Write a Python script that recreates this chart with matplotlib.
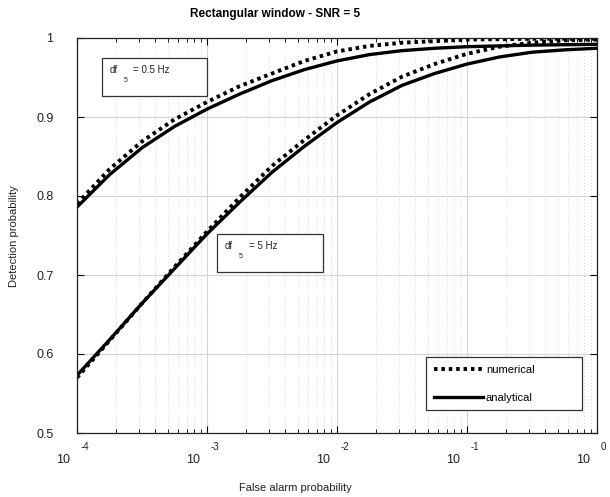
import numpy as np
import matplotlib
matplotlib.use("Agg")
import matplotlib.pyplot as plt
from matplotlib.lines import Line2D
from matplotlib.patches import Rectangle
from matplotlib.ticker import LogLocator, NullFormatter

plt.rcParams['font.family'] = ['Liberation Sans', 'DejaVu Sans']

# --- data ---
pf_grid = [1e-4, 1.78e-4, 3.16e-4, 5.62e-4, 1e-3, 1.78e-3, 3.16e-3, 5.62e-3, 1e-2,
           1.78e-2, 3.16e-2, 5.62e-2, 1e-1, 1.78e-1, 3.16e-1, 5.62e-1, 1.0]

pd_up_an = [0.786, 0.827, 0.861, 0.888, 0.910, 0.929, 0.946, 0.960, 0.971,
            0.979, 0.984, 0.987, 0.989, 0.990, 0.991, 0.9915, 0.992]
pd_up_num = [0.790, 0.834, 0.869, 0.897, 0.919, 0.939, 0.955, 0.971, 0.983,
             0.990, 0.994, 0.996, 0.998, 0.9985, 0.999, 0.999, 0.999]
pd_lo_an = [0.573, 0.618, 0.664, 0.708, 0.752, 0.792, 0.830, 0.863, 0.893,
            0.919, 0.940, 0.955, 0.967, 0.976, 0.982, 0.985, 0.987]
pd_lo_num = [0.570, 0.617, 0.664, 0.710, 0.755, 0.798, 0.838, 0.871, 0.902,
             0.929, 0.951, 0.967, 0.980, 0.989, 0.994, 0.997, 0.998]

xtick_vals = [1e-4, 1e-3, 1e-2, 1e-1, 1e0]
xtick_exps = ['-4', '-3', '-2', '-1', '0']
ytick_vals = [0.5, 0.6, 0.7, 0.8, 0.9, 1.0]
ytick_labels = ['0.5', '0.6', '0.7', '0.8', '0.9', '1']

W, H = 610, 497
fig = plt.figure(figsize=(W / 100, H / 100), dpi=100)

def fx(x):
    return x / W

def fy(y):
    return 1 - y / H

ax = fig.add_axes([fx(77), fy(433), 520 / W, 395 / H])

dot = (0, (0.9, 1.0))
ax.plot(pf_grid, pd_up_num, color='black', lw=2.8, linestyle=dot)
ax.plot(pf_grid, pd_up_an, color='black', lw=2.4)
ax.plot(pf_grid, pd_lo_num, color='black', lw=2.8, linestyle=dot)
ax.plot(pf_grid, pd_lo_an, color='black', lw=2.4)

ax.set_xscale('log')
ax.set_xlim(1e-4, 1)
ax.set_ylim(0.5, 1.0)
ax.set_xticks(xtick_vals)
ax.set_xticklabels([''] * len(xtick_vals))
ax.xaxis.set_minor_locator(LogLocator(base=10, subs=np.arange(2, 10), numticks=20))
ax.xaxis.set_minor_formatter(NullFormatter())
ax.set_yticks(ytick_vals)
ax.set_yticklabels(ytick_labels, fontsize=9, color='#222222')

ax.tick_params(which='both', direction='in', top=True, right=True)
ax.tick_params(which='major', length=5, width=0.8, pad=17)
ax.tick_params(which='minor', length=3, width=0.6)

ax.grid(True, which='major', color='#d4d4d4', linestyle='-', linewidth=0.8)
ax.grid(True, which='minor', axis='x', color='#c8c8c8', linestyle=(0, (1, 3)), linewidth=0.6)
ax.set_axisbelow(True)
for s in ax.spines.values():
    s.set_linewidth(0.9)
    s.set_color('#222222')

# x tick labels in MATLAB style: "10" with raised exponent
for v, e in zip(xtick_vals, xtick_exps):
    xp = 77 + 130 * np.log10(v / 1e-4)
    fig.text(fx(xp - 13.5), fy(460), '10', fontsize=9, ha='center', va='center', color='#222222')
    fig.text(fx(xp + 4), fy(447), e, fontsize=7, ha='left', va='center', color='#222222')

# titles and labels
fig.text(fx(275), fy(14), 'Rectangular window - SNR = 5', fontsize=8.5, fontweight='bold',
         ha='center', va='center')
fig.text(fx(295), fy(488), 'False alarm probability', fontsize=8, ha='center', va='center',
         color='#222222')
fig.text(fx(14), fy(236), 'Detection probability', fontsize=8, ha='center', va='center',
         rotation=90, color='#222222')

# annotation boxes
def box(x0, y0, x1, y1):
    r = Rectangle((fx(x0), fy(y1)), fx(x1) - fx(x0), fy(y0) - fy(y1), transform=fig.transFigure,
                  facecolor='white', edgecolor='#333333', linewidth=0.9, zorder=5)
    fig.patches.append(r)

box(102, 58, 207, 96)
fig.text(fx(110), fy(70), 'df', fontsize=7, ha='left', va='center', color='#222222', zorder=6)
fig.text(fx(124), fy(80), '5', fontsize=5, ha='left', va='center', color='#222222', zorder=6)
fig.text(fx(133), fy(70), '= 0.5 Hz', fontsize=7, ha='left', va='center', color='#222222', zorder=6)

box(217, 234, 323, 272)
fig.text(fx(225), fy(246), 'df', fontsize=7, ha='left', va='center', color='#222222', zorder=6)
fig.text(fx(239), fy(256), '5', fontsize=5, ha='left', va='center', color='#222222', zorder=6)
fig.text(fx(249), fy(246), '= 5 Hz', fontsize=7, ha='left', va='center', color='#222222', zorder=6)

# legend
handles = [Line2D([], [], color='black', lw=2.8, linestyle=dot),
           Line2D([], [], color='black', lw=2.4)]
leg = ax.legend(handles, ['numerical', 'analytical'], loc='upper left',
                bbox_to_anchor=((426 - 77) / 520, (433 - 416) / 395, 156 / 520, 59 / 395),
                mode='expand', fancybox=False, framealpha=1, edgecolor='#333333',
                fontsize=8, handlelength=4.4, handletextpad=0.3, labelspacing=1.6,
                borderpad=0.7, borderaxespad=0)
leg.get_frame().set_linewidth(0.9)

fig.savefig('out.png', dpi=100)
